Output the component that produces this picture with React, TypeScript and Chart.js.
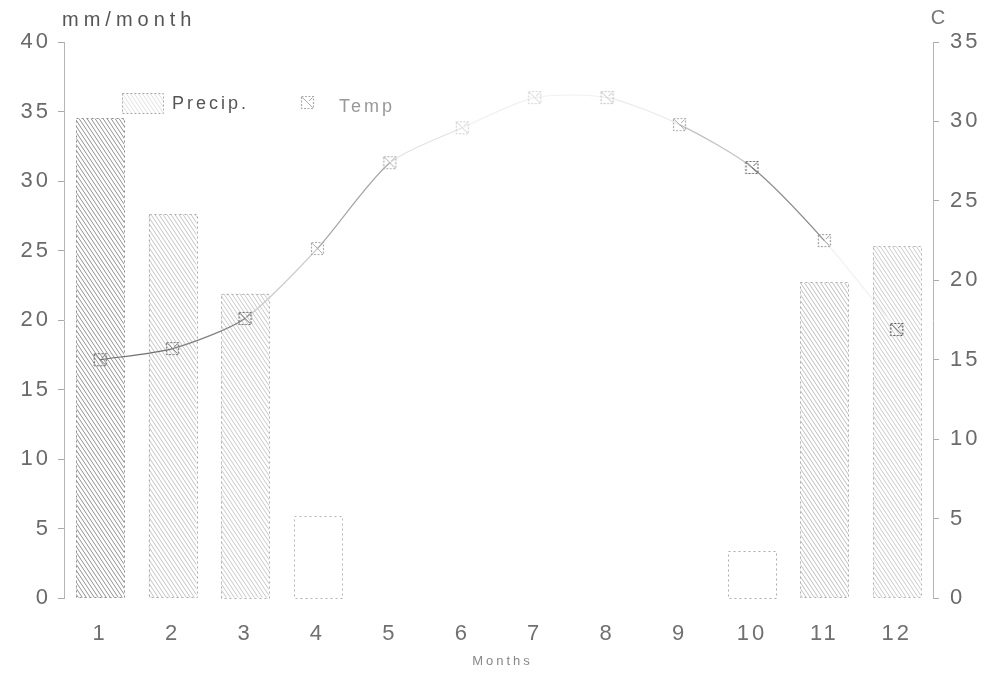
import React, { useEffect, useRef } from "react";
import { Chart, registerables } from "chart.js";

Chart.register(...registerables);

// Monthly climate values
const MONTHS = ["1", "2", "3", "4", "5", "6", "7", "8", "9", "10", "11", "12"];
const PRECIP_MM = [34.5, 27.6, 21.9, 5.9, 0, 0, 0, 0, 0, 3.4, 22.7, 25.3];
const TEMP_C = [15.0, 15.7, 17.6, 22.0, 27.4, 29.6, 31.5, 31.5, 29.8, 27.1, 22.5, 16.9];

// Axis ranges
const PRECIP_MAX = 40;
const TEMP_MAX = 35;
const TICK_STEP = 5;

// Print shades (worn-out ink of the plotter output)
const BAR_HATCH_SHADES = ["#858585", "#bcbcbc", "#c2c2c2", null, null, null, null, null, null, null, "#b8b8b8", "#c4c4c4"];
const BAR_EDGE_SHADES = ["#8f8f8f", "#aaaaaa", "#b0b0b0", "#b4b4b4", "#bbb", "#bbb", "#bbb", "#bbb", "#bbb", "#acacac", "#acacac", "#b4b4b4"];
const TEMP_SEGMENT_SHADES = ["#707070", "#808080", "#cccccc", "#a5a5a5", "#e2e2e2", "#f0f0f0", "#f0f0f0", "#eaeaea", "#c0c0c0", "#8a8a8a", "#f0f0f0"];
const TEMP_MARKER_SHADES = ["#666", "#777", "#666", "#aaa", "#aaa", "#d0d0d0", "#d4d4d4", "#c0c0c0", "#aaa", "#666", "#999", "#555"];

const FONT = '"Liberation Sans", Arial, sans-serif';

function makeHatch(shade: string) {
  const w = 4;
  const h = 6;
  const c = document.createElement("canvas");
  c.width = w;
  c.height = h;
  const g = c.getContext("2d")!;
  g.strokeStyle = shade;
  g.lineWidth = 0.9;
  g.beginPath();
  g.moveTo(-1, -1.5);
  g.lineTo(w + 1, h + 1.5);
  g.moveTo(w - 1, -1.5);
  g.lineTo(w + 1, 1.5);
  g.moveTo(-1, h - 1.5);
  g.lineTo(1, h + 1.5);
  g.stroke();
  return g.createPattern(c, "repeat");
}

function makeMarker(shade: string) {
  const c = document.createElement("canvas");
  c.width = 15;
  c.height = 15;
  const g = c.getContext("2d")!;
  g.strokeStyle = shade;
  g.lineWidth = 1.2;
  g.setLineDash([2, 1.5]);
  g.strokeRect(1.5, 1.5, 12, 12);
  g.setLineDash([]);
  g.lineWidth = 1;
  g.beginPath();
  g.moveTo(2.5, 2.5);
  g.lineTo(12.5, 12.5);
  g.moveTo(12.5, 2.5);
  g.lineTo(9, 6);
  g.stroke();
  return c;
}

// Spaced-out lettering as on the printed chart
const spacingPlugin = {
  id: "letterSpacing",
  beforeUpdate(chart: any) {
    chart.ctx.letterSpacing = "3px";
  },
  beforeDraw(chart: any) {
    chart.ctx.letterSpacing = "3px";
  },
};

// Dotted outlines around the precipitation bars
const barOutlinePlugin = {
  id: "barOutline",
  afterDatasetDraw(chart: any, args: any) {
    if (args.index !== 0) return;
    const ctx = chart.ctx;
    const meta = chart.getDatasetMeta(0);
    ctx.save();
    ctx.lineWidth = 1;
    ctx.setLineDash([2, 3]);
    meta.data.forEach((bar: any, i: number) => {
      if (!PRECIP_MM[i]) return;
      const { x, y, width, base } = bar.getProps(["x", "y", "width", "base"], true);
      ctx.strokeStyle = BAR_EDGE_SHADES[i];
      ctx.strokeRect(Math.round(x - width / 2) + 0.5, Math.round(y) + 0.5, Math.round(width), Math.round(base - y));
    });
    ctx.restore();
  },
};

// Axis captions and the in-plot key
const captionsPlugin = {
  id: "captions",
  afterDraw(chart: any) {
    const ctx = chart.ctx;
    const area = chart.chartArea;
    ctx.save();
    ctx.textBaseline = "middle";

    ctx.letterSpacing = "5px";
    ctx.fillStyle = "#555";
    ctx.font = `20px ${FONT}`;
    ctx.textAlign = "left";
    ctx.fillText("mm/month", area.left - 2, 20);
    ctx.fillStyle = "#777";
    ctx.letterSpacing = "0px";
    ctx.textAlign = "center";
    ctx.fillText("C", area.right + 5, 18);

    ctx.letterSpacing = "3px";
    ctx.fillStyle = "#888";
    ctx.font = `13px ${FONT}`;
    ctx.fillText("Months", (area.left + area.right) / 2 + 4, 661);

    // key
    const kx = area.left + 58;
    const ky = area.top + 61;
    ctx.fillStyle = makeHatch("#dcdcdc") as any;
    ctx.fillRect(kx, ky - 10, 41, 20);
    ctx.strokeStyle = "#aaa";
    ctx.lineWidth = 1;
    ctx.setLineDash([2, 2]);
    ctx.strokeRect(kx + 0.5, ky - 9.5, 41, 20);
    ctx.setLineDash([]);
    ctx.fillStyle = "#555";
    ctx.font = `18px ${FONT}`;
    ctx.textAlign = "left";
    ctx.fillText("Precip.", kx + 50, ky + 1);
    ctx.drawImage(makeMarker("#aaa"), kx + 178, ky - 8);
    ctx.fillStyle = "#999";
    ctx.fillText("Temp", kx + 217, ky + 4);
    ctx.restore();
  },
};

export default function App() {
  const canvasRef = useRef<HTMLCanvasElement | null>(null);

  useEffect(() => {
    document.body.style.margin = "0";
    document.body.style.background = "#fff";
    const canvas = canvasRef.current;
    if (!canvas) return;

    const hatchCache: Record<string, CanvasPattern | null> = {};
    const barFills = BAR_HATCH_SHADES.map((s) => {
      if (!s) return "rgba(255,255,255,0)";
      if (!hatchCache[s]) hatchCache[s] = makeHatch(s);
      return hatchCache[s];
    });
    const markers = TEMP_MARKER_SHADES.map((s) => makeMarker(s));

    const tickFont = { family: FONT, size: 22 };

    const chart = new Chart(canvas, {
      data: {
        labels: MONTHS,
        datasets: [
          {
            type: "bar",
            label: "Precip.",
            data: PRECIP_MM,
            yAxisID: "yP",
            backgroundColor: barFills as any,
            borderWidth: 0,
            barPercentage: 0.66,
            categoryPercentage: 1,
            order: 2,
          },
          {
            type: "line",
            label: "Temp",
            data: TEMP_C,
            yAxisID: "yT",
            borderColor: "#888",
            borderWidth: 1.2,
            tension: 0.25,
            pointStyle: markers as any,
            pointRadius: 7,
            segment: {
              borderColor: (c: any) => TEMP_SEGMENT_SHADES[c.p0DataIndex],
            },
            order: 1,
          },
        ],
      },
      options: {
        responsive: true,
        maintainAspectRatio: false,
        animation: false,
        layout: { padding: { top: 42, left: 0, right: 0, bottom: 0 } },
        plugins: {
          legend: { display: false },
          tooltip: { enabled: false },
        },
        scales: {
          x: {
            type: "category",
            offset: true,
            grid: { display: false, drawTicks: false },
            border: { display: false },
            ticks: { color: "#707070", font: tickFont, padding: 23, maxRotation: 0 },
            afterFit: (s: any) => {
              s.height = 78;
            },
          },
          yP: {
            type: "linear",
            position: "left",
            min: 0,
            max: PRECIP_MAX,
            ticks: { stepSize: TICK_STEP, color: "#6a6a6a", font: tickFont, padding: 7 },
            grid: { drawOnChartArea: false, drawTicks: true, tickLength: 6, color: "#aaa" },
            border: { display: true, color: "#b5b5b5" },
            afterFit: (s: any) => {
              s.width = 64;
            },
          },
          yT: {
            type: "linear",
            position: "right",
            min: 0,
            max: TEMP_MAX,
            ticks: { stepSize: TICK_STEP, color: "#6a6a6a", font: tickFont, padding: 11 },
            grid: { drawOnChartArea: false, drawTicks: true, tickLength: 6, color: "#aaa" },
            border: { display: true, color: "#b5b5b5" },
            afterFit: (s: any) => {
              s.width = 61;
            },
          },
        },
      } as any,
      plugins: [spacingPlugin, barOutlinePlugin, captionsPlugin],
    });

    return () => chart.destroy();
  }, []);

  return (
    <div style={{ position: "relative", width: 994, height: 676, background: "#fff" }}>
      <canvas ref={canvasRef} />
    </div>
  );
}
